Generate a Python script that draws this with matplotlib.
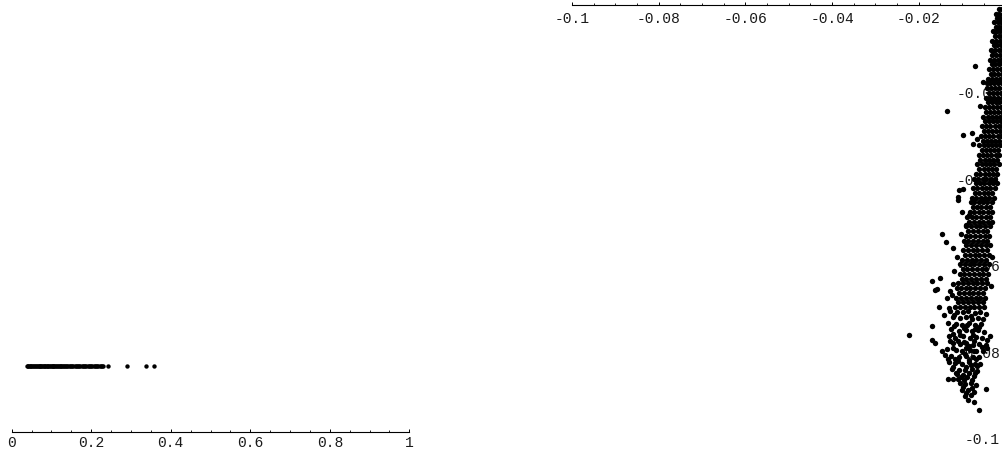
import numpy as np
import matplotlib
matplotlib.use("Agg")
import matplotlib.pyplot as plt
from matplotlib.ticker import MultipleLocator

plt.rcParams['font.family'] = ['Liberation Mono', 'DejaVu Sans Mono']

# ---------------- left panel: spread of a single quantity ----------------
strip_level = 0.15
strip_x = [0.038, 0.040, 0.042, 0.045, 0.047, 0.049, 0.052, 0.054, 0.056, 0.059,
           0.061, 0.063, 0.066, 0.068, 0.070, 0.072, 0.074, 0.077, 0.079, 0.081,
           0.083, 0.085, 0.088, 0.090, 0.092, 0.094, 0.096, 0.099, 0.101, 0.103,
           0.105, 0.107, 0.110, 0.112, 0.114, 0.116, 0.118, 0.121, 0.123, 0.125,
           0.128, 0.130, 0.133, 0.135, 0.138, 0.140, 0.143, 0.146, 0.149, 0.152,
           0.155, 0.158, 0.161, 0.164, 0.167, 0.170, 0.173, 0.176, 0.179, 0.182,
           0.185, 0.188, 0.191, 0.194, 0.197, 0.200, 0.203, 0.206, 0.209, 0.212,
           0.215, 0.218, 0.221, 0.224, 0.227, 0.230]
strip_outliers = [0.241, 0.289, 0.337, 0.357]
left_ticks = [0, 0.2, 0.4, 0.6, 0.8, 1.0]
left_labels = ["0", "0.2", "0.4", "0.6", "0.8", "1"]

# ---------------- right panel: point cloud (values in units of 1e-3) ----------------
band_rows = [
    (-1.0, [-1.6, -0.9, -0.3]),
    (-2.0, [-2.2, -1.4, -0.6, 0.0]),
    (-3.1, [-2.0, -1.2, -0.4]),
    (-4.0, [-2.6, -1.8, -1.0, -0.2]),
    (-5.0, [-2.3, -1.5, -0.7]),
    (-6.0, [-2.8, -2.0, -1.2, -0.4]),
    (-7.1, [-2.4, -1.6, -0.8, 0.0]),
    (-8.2, [-3.0, -2.2, -1.3, -0.5]),
    (-9.3, [-2.7, -1.9, -1.0, -0.2]),
    (-10.4, [-3.3, -2.5, -1.6, -0.8]),
    (-11.5, [-3.0, -2.1, -1.3, -0.4]),
    (-12.6, [-3.6, -2.7, -1.8, -1.0, -0.2]),
    (-13.7, [-3.2, -2.4, -1.5, -0.6]),
    (-14.8, [-3.8, -2.9, -2.0, -1.1, -0.3]),
    (-15.9, [-3.4, -2.6, -1.7, -0.8]),
    (-17.0, [-4.0, -3.1, -2.2, -1.3, -0.5]),
    (-18.1, [-3.6, -2.7, -1.8, -0.9, -0.1]),
    (-19.2, [-4.2, -3.3, -2.4, -1.5, -0.6]),
    (-20.3, [-3.8, -2.9, -2.0, -1.1, -0.3]),
    (-21.4, [-4.5, -3.5, -2.6, -1.7, -0.8]),
    (-22.5, [-4.1, -3.2, -2.3, -1.4, -0.5]),
    (-23.6, [-4.8, -3.9, -2.9, -2.0, -1.1]),
    (-24.7, [-4.4, -3.5, -2.6, -1.7, -0.8]),
    (-25.8, [-5.1, -4.1, -3.2, -2.2, -1.3, -0.5]),
    (-26.9, [-4.7, -3.7, -2.8, -1.9, -1.0]),
    (-28.0, [-5.4, -4.4, -3.5, -2.5, -1.6, -0.8]),
    (-29.1, [-5.0, -4.0, -3.1, -2.2, -1.2]),
    (-30.2, [-5.7, -4.7, -3.7, -2.8, -1.8, -1.0]),
    (-31.3, [-5.2, -4.3, -3.3, -2.4, -1.5]),
    (-32.4, [-6.0, -5.0, -4.0, -3.0, -2.1, -1.2]),
    (-33.5, [-5.5, -4.5, -3.6, -2.6, -1.7]),
    (-34.6, [-6.2, -5.2, -4.2, -3.3, -2.3, -1.4]),
    (-35.7, [-5.8, -4.8, -3.8, -2.9, -1.9]),
    (-36.8, [-6.5, -5.5, -4.5, -3.5, -2.6, -1.6]),
    (-37.9, [-6.0, -5.0, -4.1, -3.1, -2.2]),
    (-39.0, [-6.8, -5.8, -4.8, -3.8, -2.8, -1.9]),
    (-40.1, [-7.3, -6.3, -5.3, -4.4, -3.4, -2.4]),
    (-41.2, [-6.9, -5.9, -4.9, -3.9, -2.9, -2.0]),
    (-42.3, [-7.5, -6.5, -5.5, -4.5, -3.5, -2.5]),
    (-43.4, [-7.0, -6.0, -5.0, -4.0, -3.0]),
    (-44.5, [-7.7, -6.7, -5.7, -4.7, -3.7, -2.7]),
    (-45.6, [-8.0, -7.2, -6.2, -5.2, -4.2, -3.2]),
    (-46.7, [-7.6, -6.6, -5.6, -4.6, -3.6]),
    (-47.8, [-8.3, -7.2, -6.1, -5.1, -4.1, -3.0]),
    (-48.9, [-8.8, -7.8, -6.8, -5.7, -4.6, -3.6]),
    (-50.0, [-8.4, -7.3, -6.2, -5.2, -4.1, -3.1]),
    (-51.1, [-9.0, -8.0, -6.9, -5.8, -4.7, -3.6]),
    (-52.2, [-8.6, -7.5, -6.4, -5.3, -4.2]),
    (-53.3, [-9.2, -8.1, -7.0, -5.9, -4.8, -3.7]),
    (-54.4, [-9.6, -8.6, -7.5, -6.4, -5.3, -4.2]),
    (-55.5, [-9.0, -7.9, -6.8, -5.7, -4.6, -3.6]),
    (-56.6, [-9.8, -8.7, -7.6, -6.5, -5.4, -4.3]),
    (-57.7, [-9.3, -8.2, -7.1, -6.0, -4.9, -3.8]),
    (-58.8, [-10.0, -8.9, -7.8, -6.7, -5.6, -4.5]),
    (-59.9, [-10.4, -9.4, -8.3, -7.2, -6.1, -5.0, -3.9]),
    (-61.0, [-9.9, -8.8, -7.7, -6.6, -5.5, -4.4]),
    (-62.1, [-10.6, -9.5, -8.4, -7.3, -6.2, -5.1, -4.0]),
    (-63.2, [-10.1, -9.0, -7.9, -6.8, -5.7, -4.6]),
    (-64.3, [-10.9, -9.8, -8.7, -7.6, -6.5, -5.4, -4.3]),
    (-65.4, [-11.2, -10.3, -9.2, -8.1, -7.0, -5.9, -4.8]),
    (-66.5, [-10.7, -9.6, -8.5, -7.4, -6.3, -5.2]),
    (-67.6, [-11.4, -10.3, -9.1, -8.0, -6.9, -5.8, -4.7]),
    (-68.7, [-11.0, -9.8, -8.7, -7.6, -6.4, -5.3]),
    (-69.8, [-11.7, -10.6, -9.4, -8.3, -7.2, -6.0, -4.9]),
]

lower_pts = [
    (-12.8, -70.6), (-11.2, -70.9), (-9.9, -71.0), (-8.6, -70.7), (-7.1, -71.2), (-5.8, -70.8), (-4.6, -71.3),
    (-11.9, -71.6), (-8.0, -71.8),
    (-12.0, -72.0), (-10.4, -72.3), (-9.1, -72.1), (-7.8, -72.5), (-6.4, -72.2), (-5.2, -72.6),
    (-13.2, -73.4), (-11.5, -73.6), (-10.0, -73.8), (-8.4, -73.5), (-7.1, -73.9), (-5.7, -73.7),
    (-9.6, -74.5), (-6.0, -74.4), (-11.8, -74.2), (-8.9, -74.0), (-7.0, -74.8),
    (-12.5, -74.9), (-10.8, -75.2), (-9.2, -75.0), (-7.7, -75.4), (-6.3, -75.1), (-4.9, -75.6),
    (-12.2, -76.0), (-10.4, -76.1), (-7.6, -76.2),
    (-13.0, -76.5), (-11.6, -76.8), (-9.8, -76.4), (-8.3, -76.9), (-6.8, -76.6), (-5.5, -77.0), (-3.6, -76.4),
    (-11.0, -77.6), (-7.2, -77.5), (-4.3, -77.3), (-12.9, -77.7), (-9.6, -77.9),
    (-12.2, -78.1), (-10.6, -78.3), (-9.0, -78.0), (-7.5, -78.5), (-6.0, -78.2), (-4.6, -78.6),
    (-8.4, -78.8), (-5.4, -78.9), (-12.0, -79.2), (-9.1, -79.3), (-7.3, -79.9),
    (-13.4, -79.5), (-11.4, -79.7), (-10.0, -79.9), (-8.2, -79.6), (-6.7, -80.0), (-5.3, -79.8), (-4.2, -79.2),
    (-14.0, -80.8), (-12.5, -81.1), (-10.7, -81.3), (-9.2, -81.0), (-7.6, -81.4), (-6.1, -81.2), (-9.4, -80.6),
    (-13.2, -81.8), (-11.6, -81.7), (-8.4, -81.9), (-6.8, -81.8), (-10.9, -82.2),
    (-13.1, -82.5), (-11.6, -82.7), (-10.0, -82.9), (-8.5, -82.4), (-7.0, -82.8), (-5.8, -83.0),
    (-12.0, -83.5), (-8.0, -83.2), (-9.2, -83.6), (-6.6, -83.3),
    (-12.3, -84.0), (-10.8, -84.2), (-9.3, -84.4), (-7.8, -84.0), (-6.5, -84.5),
    (-11.3, -85.3), (-9.7, -85.4), (-11.5, -84.9), (-8.5, -85.1), (-7.0, -84.9),
    (-13.2, -86.3), (-12.0, -86.4), (-10.2, -85.8), (-8.8, -86.0), (-7.2, -85.7),
    (-11.0, -86.4), (-9.5, -86.7), (-7.8, -86.5),
    (-10.6, -87.3), (-9.3, -87.6), (-8.0, -87.2), (-6.8, -87.8),
    (-9.8, -88.2), (-7.8, -88.5),
    (-10.0, -89.0), (-8.6, -88.8), (-7.3, -89.3), (-4.5, -88.7),
    (-9.0, -89.6), (-8.0, -90.0),
    (-9.3, -90.2), (-8.6, -91.3), (-7.3, -91.8),
    (-6.1, -93.6),
]

stray_pts = [
    (-2.4, -6.3), (-2.8, -10.7), (-7.0, -14.2), (-5.1, -17.7), (-4.3, -18.1),
    (-5.8, -23.3), (-13.6, -24.5), (-9.7, -30.1), (-7.8, -29.6), (-6.6, -30.9),
    (-7.4, -32.2), (-9.7, -42.4), (-10.7, -42.8), (-10.9, -44.4), (-10.9, -45.1),
    (-10.1, -47.8), (-8.4, -48.6), (-14.7, -53.0), (-13.8, -54.7), (-12.2, -56.1),
    (-9.1, -50.7), (-10.2, -52.8), (-11.3, -58.3), (-11.8, -61.4), (-12.3, -67.0),
    (-3.0, -58.2), (-3.4, -64.8),
    (-16.9, -63.8), (-15.1, -63.0), (-16.3, -65.9), (-15.7, -65.7), (-12.0, -64.5),
    (-12.8, -66.1), (-13.4, -67.6), (-15.4, -69.8), (-13.0, -70.0), (-14.2, -71.7),
    (-22.2, -76.3), (-17.0, -74.1), (-17.0, -77.4), (-16.3, -78.0), (-14.7, -79.9),
]

right_xticks = [-0.1, -0.08, -0.06, -0.04, -0.02]
right_xlabels = ["-0.1", "-0.08", "-0.06", "-0.04", "-0.02"]
right_yticks = [-0.1, -0.08, -0.06, -0.04, -0.02]
right_ylabels = ["-0.1", "-0.08", "-0.06", "-0.04", "-0.02"]

# ---------------- figure ----------------
W, H = 1002, 452
fig = plt.figure(figsize=(W / 100, H / 100), dpi=100)
fig.patch.set_facecolor("white")

LABEL_SIZE = 10.5
TEXT_COLOR = "#1a1a1a"

# left panel
axL = fig.add_axes([11.7 / W, 19.3 / H, 397.6 / W, 436 / H])
axL.set_xlim(0, 1)
axL.set_ylim(0, 1)
for side in ("left", "right", "top"):
    axL.spines[side].set_visible(False)
axL.spines["bottom"].set_linewidth(0.8)
axL.set_yticks([])
axL.set_xticks(left_ticks)
axL.set_xticklabels(left_labels)
axL.xaxis.set_minor_locator(MultipleLocator(0.05))
axL.tick_params(axis="x", which="major", direction="in", length=2.2, width=0.7,
                pad=2.5, labelsize=LABEL_SIZE, labelcolor=TEXT_COLOR)
axL.tick_params(axis="x", which="minor", direction="in", length=1.2, width=0.6)
axL.set_facecolor("none")
all_strip = strip_x + strip_outliers
axL.scatter(all_strip, [strip_level] * len(all_strip), s=10, c="black",
            linewidths=0, zorder=3)

# right panel
axR = fig.add_axes([572 / W, 13 / H, 433.5 / W, 433 / H])
axR.set_xlim(-0.1, 0)
axR.set_ylim(-0.1, 0)
axR.set_facecolor("none")
for side in ("right", "top"):
    axR.spines[side].set_visible(False)
axR.spines["bottom"].set_position(("data", 0))
axR.spines["left"].set_position(("data", 0))
axR.spines["bottom"].set_linewidth(0.8)
axR.spines["left"].set_linewidth(0.8)
axR.set_xticks(right_xticks)
axR.set_xticklabels(right_xlabels)
axR.set_yticks(right_yticks)
axR.set_yticklabels(right_ylabels)
axR.xaxis.set_minor_locator(MultipleLocator(0.005))
axR.yaxis.set_minor_locator(MultipleLocator(0.005))
axR.tick_params(axis="both", which="major", direction="in", length=2.2, width=0.7,
                pad=4, labelsize=LABEL_SIZE, labelcolor=TEXT_COLOR)
axR.tick_params(axis="both", which="minor", direction="in", length=1.2, width=0.6)

cx = [x for y, xs in band_rows for x in xs]
cy = [y for y, xs in band_rows for _ in xs]
cx += [p[0] for p in lower_pts] + [p[0] for p in stray_pts]
cy += [p[1] for p in lower_pts] + [p[1] for p in stray_pts]
cx = np.array(cx) * 1e-3
cy = np.array(cy) * 1e-3
axR.scatter(cx, cy, s=15, c="black", linewidths=0, zorder=3)

fig.savefig("out.png", dpi=100, facecolor="white")
